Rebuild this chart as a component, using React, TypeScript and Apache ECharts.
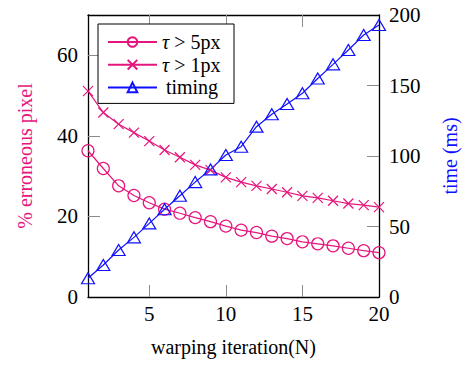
import React, { useEffect, useRef } from "react";
import * as echarts from "echarts";

const iterations = [1, 2, 3, 4, 5, 6, 7, 8, 9, 10, 11, 12, 13, 14, 15, 16, 17, 18, 19, 20];
const err5px = [36.3, 31.9, 27.6, 25.2, 23.4, 21.8, 20.8, 19.7, 18.7, 17.6, 16.6, 16.0, 15.1, 14.5, 13.7, 13.2, 12.7, 12.1, 11.5, 11.0];
const err1px = [51.1, 45.8, 42.9, 40.8, 38.7, 36.5, 34.7, 32.8, 31.5, 29.7, 28.5, 27.6, 26.8, 26.0, 25.1, 24.6, 23.9, 23.2, 22.8, 22.3];
const timingMs = [13.3, 22.7, 33.3, 42.3, 52.2, 62.2, 71.8, 81.5, 90.5, 100.7, 106.6, 120.8, 129.6, 136.9, 144.5, 155.0, 165.0, 175.2, 185.8, 192.9];

const xTickLabels = [5, 10, 15, 20];
const leftTickLabels = [0, 20, 40, 60];
const rightTickLabels = [0, 50, 100, 150, 200];

const PINK = "#e6157c";
const BLUE = "#1010ff";
const FONT = "'Liberation Serif', 'DejaVu Serif', serif";
const TICK = "#8c8c8c";

const CROSS = "path://M0,0L10,10M10,0L0,10";

export default function App() {
  const ref = useRef<HTMLDivElement>(null);
  useEffect(() => {
    if (!ref.current) return;
    const chart = echarts.init(ref.current, null, { renderer: "svg" });
    const pairs = (ys: number[]) => iterations.map((x, i) => [x, ys[i]]);
    const tickStyle = { show: true, inside: true, length: 12, lineStyle: { color: TICK, width: 1 } };
    chart.setOption({
      animation: false,
      backgroundColor: "#fff",
      grid: { left: 88, right: 97, top: 15, bottom: 77 },
      legend: {
        orient: "vertical",
        left: 98,
        top: 24,
        padding: [8, 12, 6, 9],
        itemGap: 2.7,
        itemWidth: 49,
        itemHeight: 12,
        backgroundColor: "#fff",
        borderColor: "#000",
        borderWidth: 1,
        borderRadius: 0,
        data: ["τ > 5px", "τ > 1px", "timing"],
        formatter: (name: string) =>
          name.startsWith("τ") ? "{it|τ} {n|" + name.slice(2) + "}" : "{c|" + name + "}",
        textStyle: {
          fontFamily: FONT,
          fontSize: 20,
          lineHeight: 20,
          color: "#000",
          rich: {
            it: { fontFamily: FONT, fontSize: 20, lineHeight: 20, fontStyle: "italic", color: "#000" },
            n: { fontFamily: FONT, fontSize: 20, lineHeight: 20, color: "#000" },
            c: { fontFamily: FONT, fontSize: 20, lineHeight: 20, color: "#000", width: 60, align: "center" },
          },
        },
      },
      xAxis: [
        {
          type: "value",
          min: 1,
          max: 20,
          position: "bottom",
          name: "warping iteration(N)",
          nameLocation: "middle",
          nameGap: 40,
          nameTextStyle: { fontFamily: FONT, fontSize: 20, color: "#000" },
          axisLine: { show: true, onZero: false, lineStyle: { color: "#000", width: 1.3 } },
          axisTick: { ...tickStyle, customValues: [5, 10, 15] },
          axisLabel: {
            customValues: xTickLabels,
            fontFamily: FONT,
            fontSize: 21,
            color: "#000",
            margin: 6,
          },
          splitLine: { show: false },
        },
        {
          type: "value",
          min: 1,
          max: 20,
          position: "top",
          axisLine: { show: true, onZero: false, lineStyle: { color: "#000", width: 1.3 } },
          axisTick: { ...tickStyle, customValues: [5, 10, 15] },
          axisLabel: { show: false },
          splitLine: { show: false },
        },
      ],
      yAxis: [
        {
          type: "value",
          min: 0,
          max: 70,
          position: "left",
          name: "% erroneous pixel",
          nameLocation: "middle",
          nameRotate: 90,
          nameGap: 53,
          nameTextStyle: { fontFamily: FONT, fontSize: 20, color: PINK },
          axisLine: { show: true, onZero: false, lineStyle: { color: "#000", width: 1.3 } },
          axisTick: { ...tickStyle, customValues: [20, 40, 60] },
          axisLabel: {
            customValues: leftTickLabels,
            fontFamily: FONT,
            fontSize: 21,
            color: "#000",
            margin: 10,
          },
          splitLine: { show: false },
        },
        {
          type: "value",
          min: 0,
          max: 200,
          position: "right",
          name: "time (ms)",
          nameLocation: "middle",
          nameRotate: 90,
          nameGap: 61,
          nameTextStyle: { fontFamily: FONT, fontSize: 20, color: BLUE },
          axisLine: { show: true, onZero: false, lineStyle: { color: "#000", width: 1.3 } },
          axisTick: { ...tickStyle, customValues: [50, 100, 150] },
          axisLabel: {
            customValues: rightTickLabels,
            fontFamily: FONT,
            fontSize: 21,
            color: "#000",
            margin: 10,
          },
          splitLine: { show: false },
        },
      ],
      series: [
        {
          name: "τ > 5px",
          type: "line",
          xAxisIndex: 0,
          yAxisIndex: 0,
          data: pairs(err5px),
          symbol: "circle",
          symbolSize: 12,
          lineStyle: { color: PINK, width: 1.2 },
          itemStyle: { color: "rgba(0,0,0,0)", borderColor: PINK, borderWidth: 1.2 },
        },
        {
          name: "τ > 1px",
          type: "line",
          xAxisIndex: 0,
          yAxisIndex: 0,
          data: pairs(err1px),
          symbol: CROSS,
          symbolSize: 10,
          lineStyle: { color: PINK, width: 1.2 },
          itemStyle: { color: "rgba(0,0,0,0)", borderColor: PINK, borderWidth: 1.2 },
        },
        {
          name: "timing",
          type: "line",
          xAxisIndex: 0,
          yAxisIndex: 1,
          data: pairs(timingMs),
          symbol: "triangle",
          symbolSize: [13, 11],
          lineStyle: { color: BLUE, width: 1.2 },
          itemStyle: { color: "rgba(0,0,0,0)", borderColor: BLUE, borderWidth: 1.2 },
        },
      ],
    });
    return () => chart.dispose();
  }, []);
  return (
    <div
      ref={ref}
      style={{ position: "fixed", left: 0, top: 0, width: 476, height: 374, background: "#fff" }}
    />
  );
}
